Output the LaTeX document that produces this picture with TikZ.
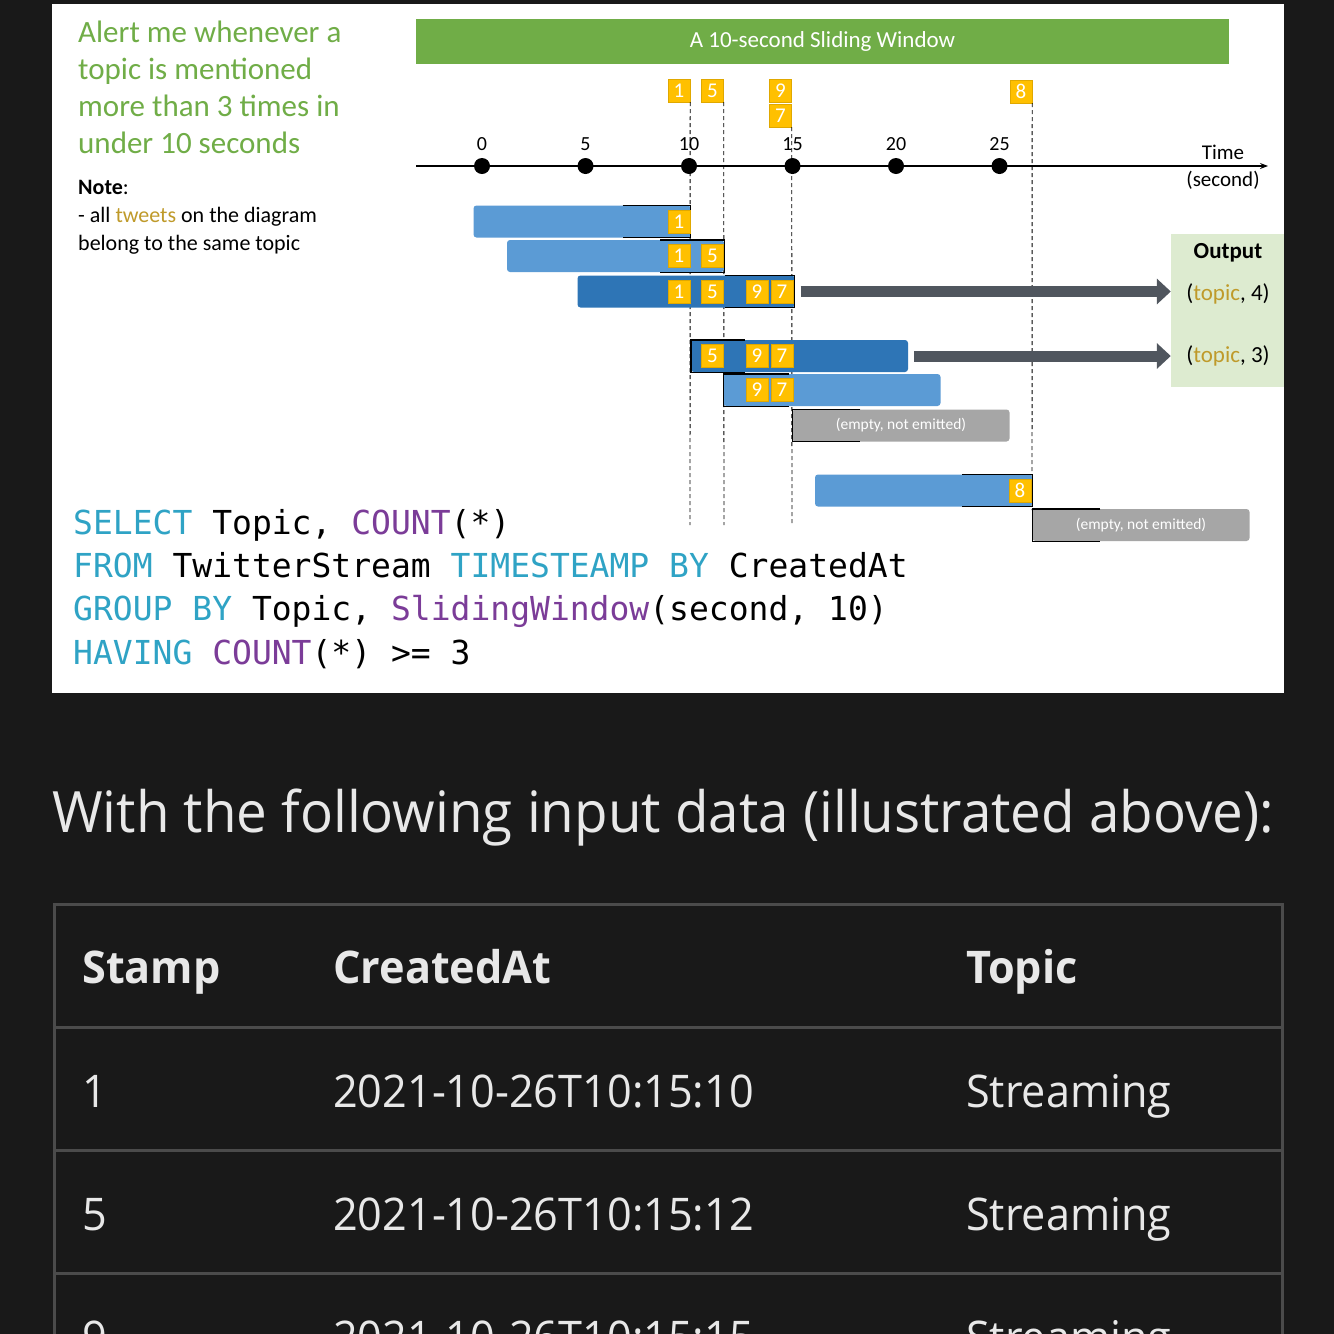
\documentclass[tikz,border=0pt]{standalone}
\usepackage{fontspec}
\usepackage{xcolor}
\setmainfont{Carlito}
\newfontfamily\sqlfont{DejaVu Sans Mono}
\newfontfamily\uifont[FakeStretch=0.96]{Open Sans}
\usetikzlibrary{positioning, calc, arrows.meta}

\definecolor{pagedark}{HTML}{191919}
\definecolor{rulegray}{HTML}{4B4B4B}
\definecolor{lighttext}{HTML}{E8E8E8}
\definecolor{alertgreen}{HTML}{70AD47}
\definecolor{tweetfill}{HTML}{FFC000}
\definecolor{tweetedge}{HTML}{E0A800}
\definecolor{barlight}{HTML}{5B9BD5}
\definecolor{bardark}{HTML}{2E75B6}
\definecolor{bargray}{HTML}{A6A6A6}
\definecolor{arrowgray}{HTML}{50565E}
\definecolor{outfill}{HTML}{DDEBD0}
\definecolor{topicgold}{HTML}{BF9A2A}
\definecolor{sqlkey}{HTML}{2FA3C5}
\definecolor{sqlfn}{HTML}{7B3C98}

\newcommand\px[1]{\fontsize{#1}{#1}\selectfont}

\begin{document}
\begin{tikzpicture}[x=1pt, y=-1pt,
    tweet/.style={rectangle, draw=tweetedge, fill=tweetfill, text=white, minimum width=22, minimum height=23, inner sep=0pt, font=\px{21}},
    win/.style={rectangle, rounded corners=3pt, minimum width=217, minimum height=32, inner sep=0pt},
    winlight/.style={win, fill=barlight},
    windark/.style={win, fill=bardark},
    winempty/.style={win, fill=bargray, text=white, font=\px{15.5}},
    bracket/.style={draw=black, line width=1.4pt},
    guide/.style={draw=black, line width=0.9pt, dash pattern=on 4pt off 3pt},
    dot/.style={circle, fill=black, minimum size=16, inner sep=0pt},
    ticklbl/.style={font=\px{20}},
    outarrow/.style={draw=arrowgray, line width=11pt, -{Triangle[length=14pt, width=25pt]}},
    cell/.style={anchor=base west, inner sep=0pt, text=lighttext, font=\uifont\px{45}},
    headcell/.style={cell, font=\uifont\bfseries\px{45}},
    sqlline/.style={anchor=base west, inner sep=0pt, font=\sqlfont\px{33}}
]

    % Page
    \useasboundingbox (0,0) rectangle (1334,1334);
    \fill[pagedark] (0,0) rectangle (1334,1334);
    \fill[white] (52,4) rectangle (1284,693);

    % Question and note
    \node[anchor=north west, inner sep=0pt, align=left, text=alertgreen, font=\px{31}]
        (alert) at (78,21) {Alert me whenever a\\[6pt]topic is mentioned\\[6pt]more than 3 times in\\[6pt]under 10 seconds};
    \node[anchor=north west, inner sep=0pt, align=left, font=\px{22}]
        (note) at (78,180) {\textbf{Note}:\\[6pt]- all \textcolor{topicgold}{tweets} on the diagram\\[6pt]belong to the same topic};

    % Banner
    \node[rectangle, fill=alertgreen, text=white, minimum width=813, minimum height=45, font=\px{23}]
        (title) at (822.5,41.5) {A 10-second Sliding Window};

    % Incoming tweets
    \node[tweet] (in1) at (679,90.5) {1};
    \node[tweet] (in5) at (712.5,90.5) {5};
    \node[tweet] (in9) at (780.5,90.5) {9};
    \node[tweet] (in7) at (780.5,115.5) {7};
    \node[tweet] (in8) at (1021,91.5) {8};

    % Time axis labels
    \foreach \t in {0,5,...,25}
        \node[ticklbl] (lbl\t) at ({482+20.7*\t},144) {\t};
    \node[font=\px{21}] (timelbl) at (1223,152) {Time};
    \node[font=\px{21}] (unitlbl) at (1223,180) {(second)};

    % Guides
    \coordinate (g1) at (690,525);
    \coordinate (g5) at (724,525);
    \coordinate (g7) at (792,525);
    \coordinate (g8) at (1032,510);
    \draw[guide] (in1.south east) -- (g1);
    \draw[guide] (in5.south east) -- (g5);
    \draw[guide] (in7.south east) -- (g7);
    \draw[guide] (in8.south east) -- (g8);

    % Time axis
    \coordinate (axstart) at (416,166);
    \coordinate (axend) at (1268,166);
    \draw[line width=1.2pt, -{Stealth[length=8pt, width=6pt]}] (axstart) -- (axend);
    \foreach \t in {0,5,...,25}
        \node[dot] (d\t) at ({482+20.7*\t},166) {};

    % Windows
    \node[winlight] (w1) at (582,221.5) {};
    \node[winlight] (w2) at (615.5,256) {};
    \node[windark] (w3) at (686,291.5) {};
    \node[windark] (w4) at (799.5,356) {};
    \node[winlight] (w5) at (832,390) {};
    \node[winempty] (w6) at (901,425.5) {(empty, not emitted)};
    \node[winlight] (w7) at (923.5,490.5) {};
    \node[winempty] (w8) at (1141,525) {(empty, not emitted)};

    % Window ends
    \draw[bracket] ([xshift=-68]w1.north east) -- (w1.north east) -- (w1.south east) -- ([xshift=-68]w1.south east);
    \draw[bracket] ([xshift=-64]w2.north east) -- (w2.north east) -- (w2.south east) -- ([xshift=-64]w2.south east);
    \draw[bracket] ([xshift=-70]w3.north east) -- (w3.north east) -- (w3.south east) -- ([xshift=-70]w3.south east);
    \draw[bracket] ([xshift=-70]w7.north east) -- (w7.north east) -- (w7.south east) -- ([xshift=-70]w7.south east);
    \draw[bracket] ([xshift=54]w4.north west) -- (w4.north west) -- (w4.south west) -- ([xshift=54]w4.south west);
    \draw[bracket] ([xshift=66]w5.north west) -- (w5.north west) -- (w5.south west) -- ([xshift=66]w5.south west);
    \draw[bracket] ([xshift=68]w6.north west) -- (w6.north west) -- (w6.south west) -- ([xshift=68]w6.south west);
    \draw[bracket] ([xshift=68]w8.north west) -- (w8.north west) -- (w8.south west) -- ([xshift=68]w8.south west);

    % Tweets in windows
    \node[tweet] (w1a) at (679,221.5) {1};
    \node[tweet] (w2a) at (679,256) {1};
    \node[tweet] (w2b) at (712.5,256) {5};
    \node[tweet] (w3a) at (679,291.5) {1};
    \node[tweet] (w3b) at (712.5,291.5) {5};
    \node[tweet] (w3c) at (757,291.5) {9};
    \node[tweet] (w3d) at (782,291.5) {7};
    \node[tweet] (w4a) at (712.5,356) {5};
    \node[tweet] (w4b) at (757,356) {9};
    \node[tweet] (w4c) at (782,356) {7};
    \node[tweet] (w5a) at (757,390) {9};
    \node[tweet] (w5b) at (782,390) {7};
    \node[tweet] (w7a) at (1020,490.5) {8};

    % Output
    \node[rectangle, fill=outfill, minimum width=113, minimum height=153, inner sep=0pt] (out) at (1227.5,310.5) {};
    \node[font=\bfseries\px{23}] (outhead) at (1228,253) {Output};
    \node[font=\px{23}] (res4) at (1228,294) {(\textcolor{topicgold}{topic}, 4)};
    \node[font=\px{23}] (res3) at (1228,356) {(\textcolor{topicgold}{topic}, 3)};
    \draw[outarrow] ([xshift=6]w3.east) -- (out.west |- w3.east);
    \draw[outarrow] ([xshift=6]w4.east) -- (out.west |- w4.east);

    % Query
    \node[sqlline] (sql1) at (73,534) {\textcolor{sqlkey}{SELECT} Topic, \textcolor{sqlfn}{COUNT}(*)};
    \node[sqlline] (sql2) at (73,577) {\textcolor{sqlkey}{FROM} TwitterStream \textcolor{sqlkey}{TIMESTEAMP BY} CreatedAt};
    \node[sqlline] (sql3) at (73,620) {\textcolor{sqlkey}{GROUP BY} Topic, \textcolor{sqlfn}{SlidingWindow}(second, 10)};
    \node[sqlline] (sql4) at (73,664) {\textcolor{sqlkey}{HAVING} \textcolor{sqlfn}{COUNT}(*) >= 3};

    % Input data
    \node[anchor=base west, inner sep=0pt, text=lighttext, font=\uifont\px{57}]
        (intro) at (52,832) {With the following input data (illustrated above):};

    \draw[rulegray, line width=3pt] (54,1340) -- (54,904) -- (1282,904) -- (1282,1340);
    \foreach \yy in {1027,1150,1273}
        \draw[rulegray, line width=3pt] (54,\yy) -- (1282,\yy);

    \node[headcell] (hstamp) at (82,983) {Stamp};
    \node[headcell] (hcreated) at (333,983) {CreatedAt};
    \node[headcell] (htopic) at (966,983) {Topic};

    \node[cell] (r1s) at (82,1107) {1};
    \node[cell] (r1c) at (333,1107) {2021-10-26T10:15:10};
    \node[cell] (r1t) at (966,1107) {Streaming};
    \node[cell] (r2s) at (82,1230) {5};
    \node[cell] (r2c) at (333,1230) {2021-10-26T10:15:12};
    \node[cell] (r2t) at (966,1230) {Streaming};
    \node[cell] (r3s) at (82,1353) {9};
    \node[cell] (r3c) at (333,1353) {2021-10-26T10:15:15};
    \node[cell] (r3t) at (966,1353) {Streaming};

\end{tikzpicture}
\end{document}
